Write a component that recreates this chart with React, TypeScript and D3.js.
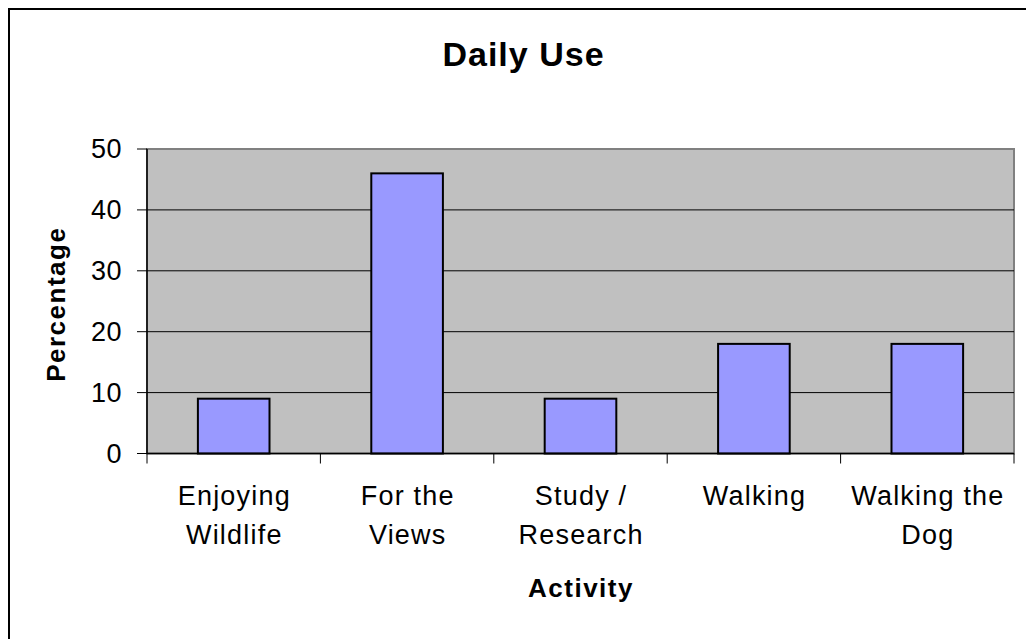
import React from "react";
import * as d3 from "d3";

const categories: string[][] = [
  ["Enjoying", "Wildlife"],
  ["For the", "Views"],
  ["Study /", "Research"],
  ["Walking"],
  ["Walking the", "Dog"],
];
const values: number[] = [9, 46, 9, 18, 18];
const yTicks: number[] = [0, 10, 20, 30, 40, 50];
const title = "Daily Use";
const xTitle = "Activity";
const yTitle = "Percentage";

const W = 1026;
const H = 639;
const plot = { left: 147, right: 1014, top: 149, bottom: 453.5 };
const FONT = "'Liberation Sans', Arial, sans-serif";

export default function App() {
  const keys = categories.map((c) => c.join(" "));
  const x = d3.scaleBand<string>().domain(keys).range([plot.left, plot.right]).paddingInner(0).paddingOuter(0);
  const y = d3.scaleLinear().domain([0, 50]).range([plot.bottom, plot.top]);
  const bw = x.bandwidth();
  const barW = bw * 0.413;
  const boundaries = d3.range(keys.length + 1).map((i) => plot.left + i * bw);
  const ls = 1.2;

  return (
    <svg
      width={W}
      height={H}
      style={{ position: "absolute", left: 0, top: 0, display: "block", background: "#fff" }}
      fontFamily={FONT}
    >
      <rect x={9} y={9} width={1200} height={800} fill="#fff" stroke="#000" strokeWidth={2} />
      <text x={523.5} y={66} textAnchor="middle" fontSize={34} fontWeight="bold" fill="#000" letterSpacing={1}>
        {title}
      </text>
      <rect
        x={plot.left}
        y={plot.top}
        width={plot.right - plot.left}
        height={plot.bottom - plot.top}
        fill="#C0C0C0"
        stroke="#808080"
        strokeWidth={2}
      />
      {yTicks.map((t) => (
        <g key={t}>
          {t > 0 && t < 50 && (
            <line x1={plot.left} x2={plot.right} y1={y(t)} y2={y(t)} stroke="#000" strokeWidth={1} />
          )}
          <line x1={plot.left - 10} x2={plot.left} y1={y(t)} y2={y(t)} stroke="#000" strokeWidth={1} />
          <text x={122} y={y(t)} dy="0.35em" textAnchor="end" fontSize={27} fill="#000" letterSpacing={0.5}>
            {t}
          </text>
        </g>
      ))}
      {keys.map((k, i) => (
        <rect
          key={k}
          x={(x(k) as number) + (bw - barW) / 2}
          y={y(values[i])}
          width={barW}
          height={plot.bottom - y(values[i])}
          fill="#9999FF"
          stroke="#000"
          strokeWidth={2}
        />
      ))}
      <line x1={plot.left} x2={plot.left} y1={plot.top} y2={plot.bottom} stroke="#000" strokeWidth={1.5} />
      <line x1={plot.left} x2={plot.right} y1={plot.bottom} y2={plot.bottom} stroke="#000" strokeWidth={1.5} />
      {boundaries.map((b, i) => (
        <line key={i} x1={b} x2={b} y1={plot.bottom} y2={plot.bottom + 10} stroke="#000" strokeWidth={1} />
      ))}
      {categories.map((lines, i) => (
        <text
          key={keys[i]}
          textAnchor="middle"
          fontSize={27}
          fill="#000"
          letterSpacing={ls}
        >
          {lines.map((l, j) => (
            <tspan key={j} x={(x(keys[i]) as number) + bw / 2 + ls / 2} y={505 + j * 39}>
              {l}
            </tspan>
          ))}
        </text>
      ))}
      <text x={581} y={597} textAnchor="middle" fontSize={26} fontWeight="bold" fill="#000" letterSpacing={1.5}>
        {xTitle}
      </text>
      <text
        transform={`translate(65, ${(plot.top + plot.bottom) / 2 + 3}) rotate(-90)`}
        textAnchor="middle"
        fontSize={26}
        fontWeight="bold"
        fill="#000"
        letterSpacing={1.5}
      >
        {yTitle}
      </text>
    </svg>
  );
}
